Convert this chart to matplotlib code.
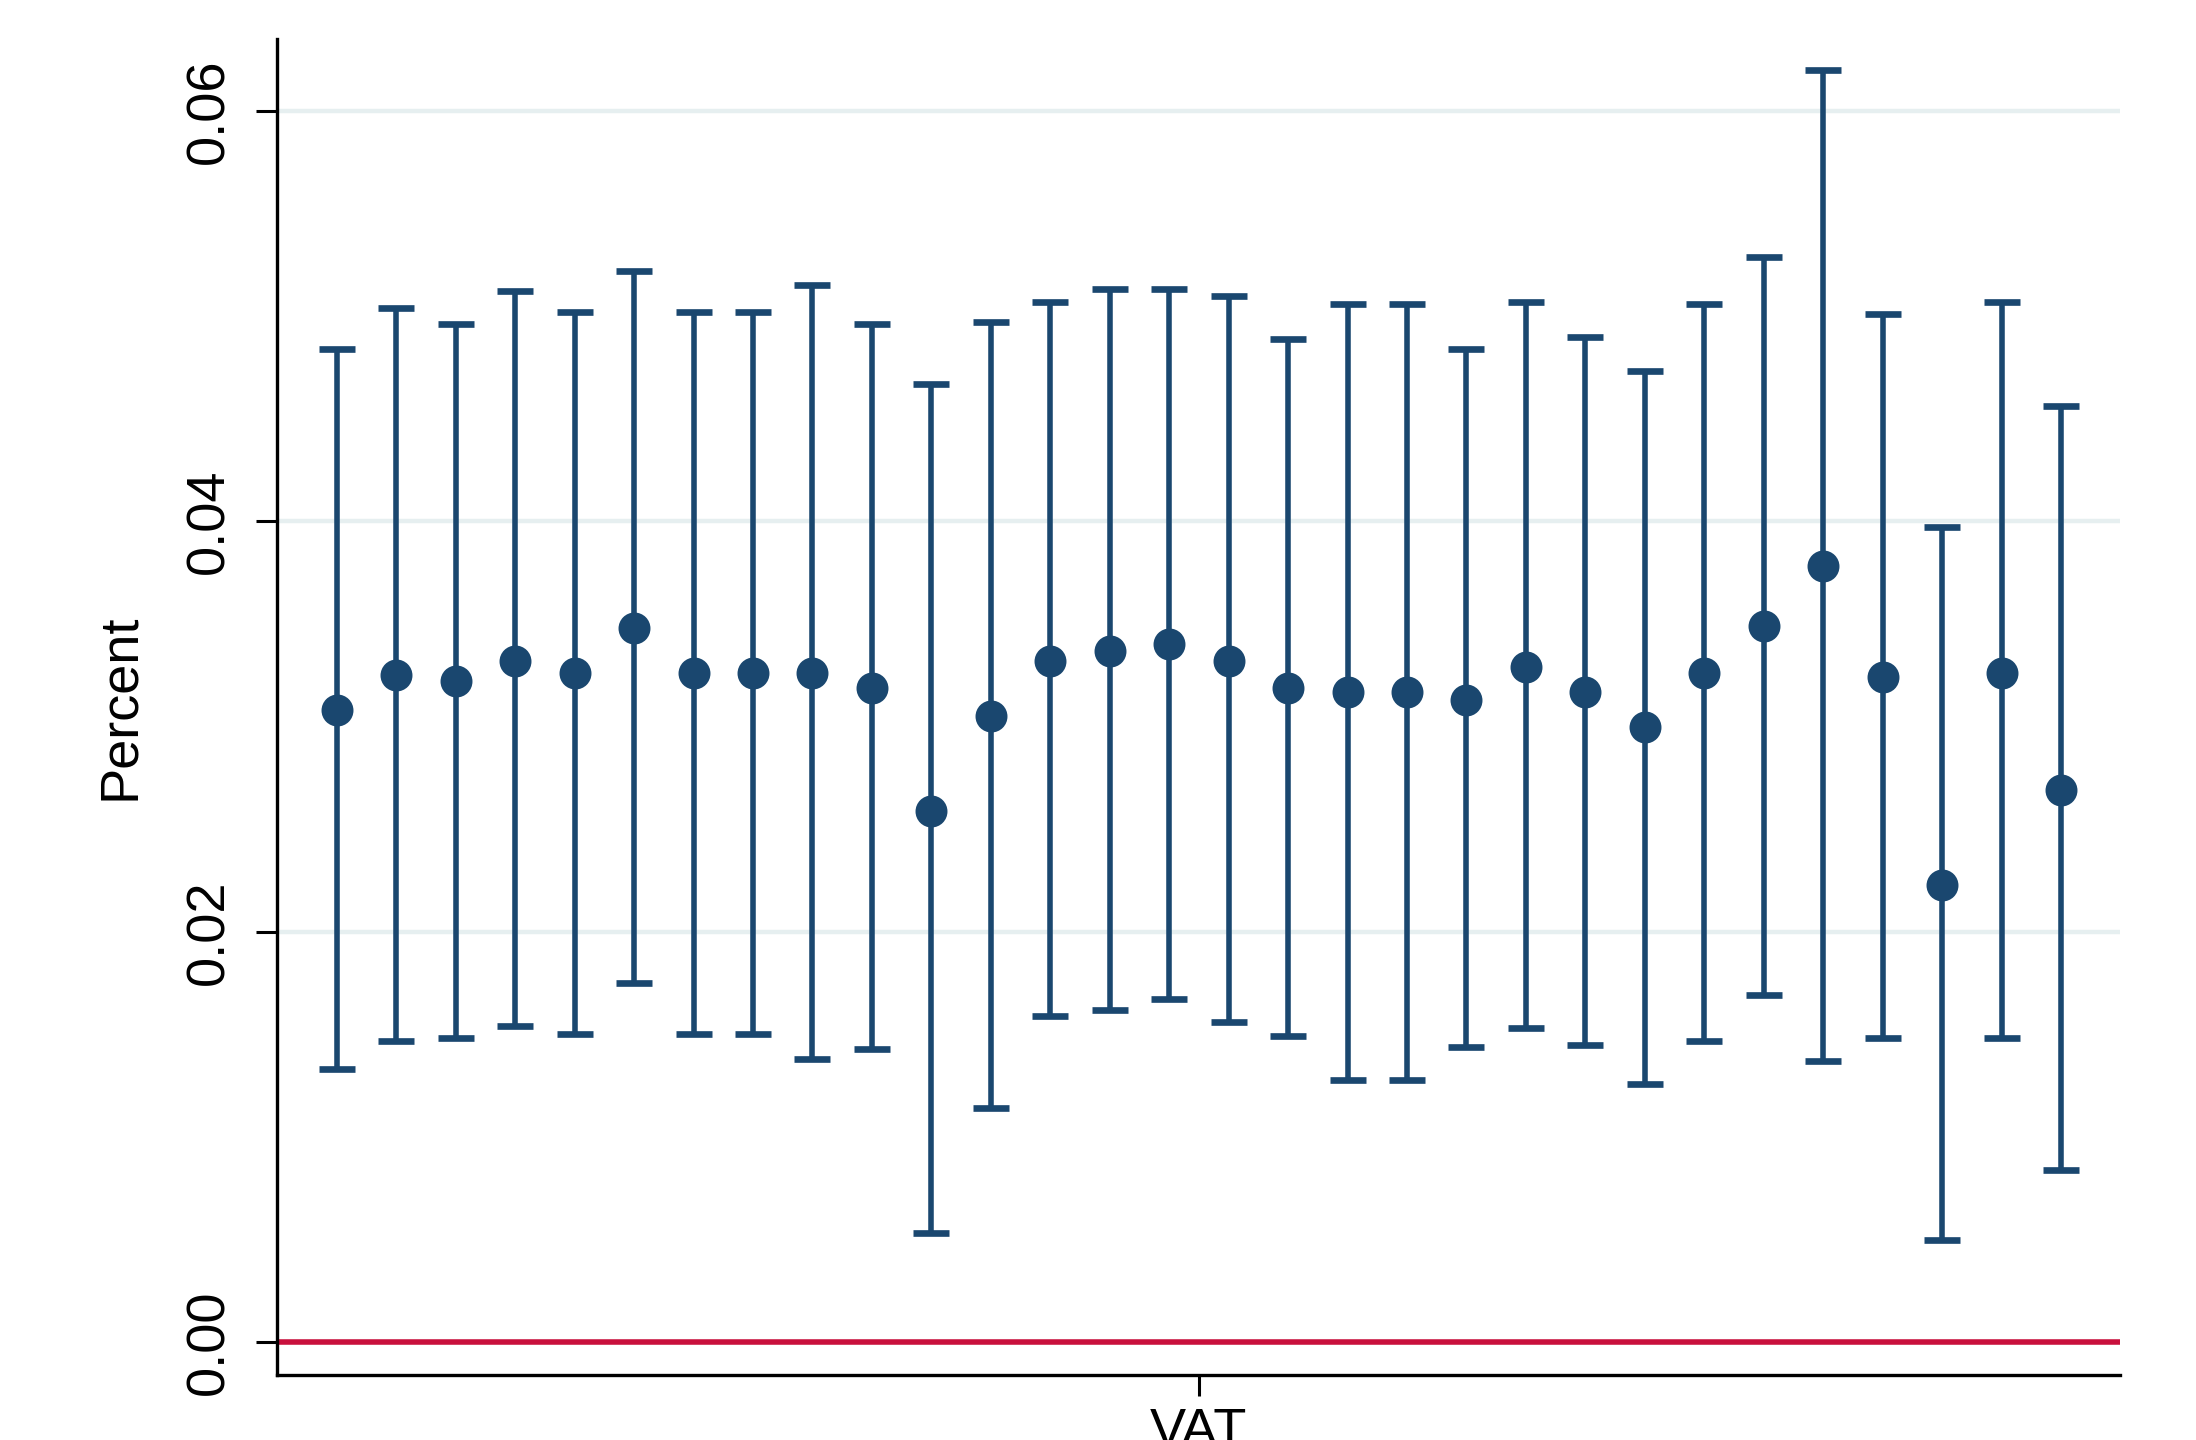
import numpy as np
import matplotlib.pyplot as plt

plt.rcParams['font.family'] = ['Liberation Sans', 'DejaVu Sans']

# Point estimates and 95% confidence bounds, one per specification
estimate = [0.0308, 0.0325, 0.0322, 0.0332, 0.0326, 0.0348, 0.0326, 0.0326, 0.0326, 0.0319,
            0.0259, 0.0305, 0.0332, 0.0337, 0.0340, 0.0332, 0.0319, 0.0317, 0.0317, 0.0313,
            0.0329, 0.0317, 0.0300, 0.0326, 0.0349, 0.0378, 0.0324, 0.0223, 0.0326, 0.0269]
upper = [0.0484, 0.0504, 0.0496, 0.0512, 0.0502, 0.0522, 0.0502, 0.0502, 0.0515, 0.0496,
         0.0467, 0.0497, 0.0507, 0.0513, 0.0513, 0.0510, 0.0489, 0.0506, 0.0506, 0.0484,
         0.0507, 0.0490, 0.0473, 0.0506, 0.0529, 0.0620, 0.0501, 0.0397, 0.0507, 0.0456]
lower = [0.0133, 0.0147, 0.0148, 0.0154, 0.0150, 0.0175, 0.0150, 0.0150, 0.0138, 0.0143,
         0.0053, 0.0114, 0.0159, 0.0162, 0.0167, 0.0156, 0.0149, 0.0128, 0.0128, 0.0144,
         0.0153, 0.0145, 0.0126, 0.0147, 0.0169, 0.0137, 0.0148, 0.0050, 0.0148, 0.0084]

y_ticks = [0.00, 0.02, 0.04, 0.06]
y_tick_labels = ["0.00", "0.02", "0.04", "0.06"]
x_label = "VAT"
y_label = "Percent"

navy = '#1a476f'
x = np.arange(1, len(estimate) + 1)
est = np.array(estimate)
err = np.vstack([est - np.array(lower), np.array(upper) - est])

fig = plt.figure(figsize=(10.98, 7.2), dpi=200)
ax = fig.add_axes([0.1263, 0.0451, 0.8393, 0.9278])

# light horizontal grid
for yv in y_ticks[1:]:
    ax.axhline(yv, color='#e6eff0', linewidth=1.6, zorder=0)

ax.axhline(0, color='#c8103c', linewidth=2.0, zorder=1)

ax.errorbar(x, est, yerr=err, fmt='o', color=navy, ecolor=navy,
            markersize=10.5, elinewidth=2.0, capsize=6.5, capthick=2.4, zorder=3)

ax.set_xlim(0, len(estimate) + 1)
ax.set_ylim(-0.0016, 0.0635)

ax.set_yticks(y_ticks)
ax.set_yticklabels(y_tick_labels, rotation=90, va='center')
ax.set_xticks([(len(estimate) + 1) / 2])
ax.set_xticklabels([x_label])

ax.tick_params(axis='both', length=7.5, width=1.1, labelsize=19.5, color='black')
ax.tick_params(axis='y', pad=8)
ax.tick_params(axis='x', pad=4)
ax.set_ylabel(y_label, fontsize=19.5, labelpad=14)

for side in ['top', 'right']:
    ax.spines[side].set_visible(False)
for side in ['left', 'bottom']:
    ax.spines[side].set_linewidth(1.2)

fig.savefig('out.png', dpi=200, facecolor='white')
